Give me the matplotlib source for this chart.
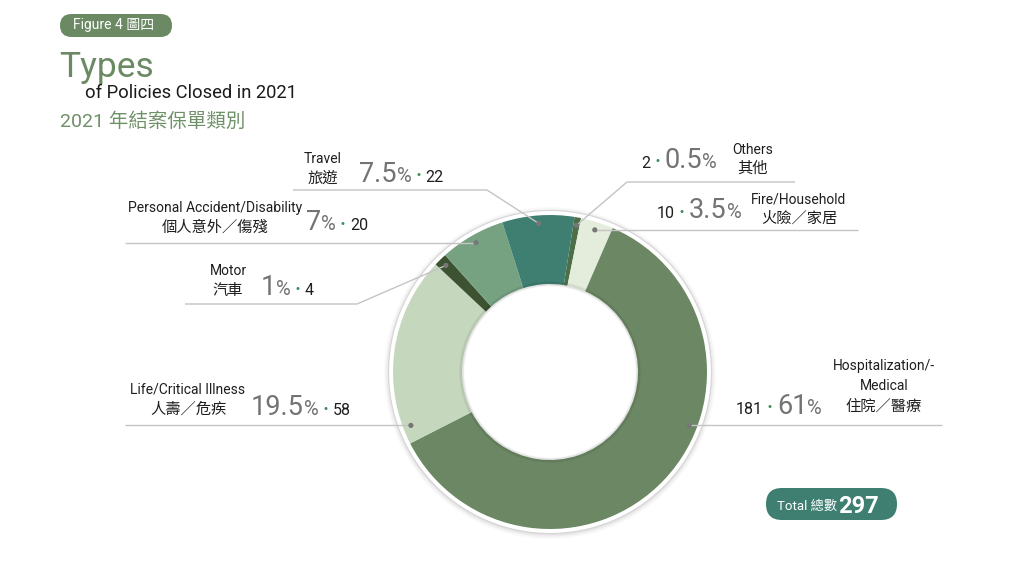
import matplotlib
matplotlib.use('Agg')
import matplotlib.pyplot as plt
from matplotlib.patches import Circle, FancyBboxPatch
import numpy as np

# ---------------- data ----------------
categories_en = ['Others', 'Fire/Household', 'Hospitalization/-\nMedical',
                 'Life/Critical Illness', 'Motor', 'Personal Accident/Disability', 'Travel']
categories_zh = ['其他', '火險／家居', '住院／醫療', '人壽／危疾', '汽車', '個人意外／傷殘', '旅遊']
counts = [2, 10, 181, 58, 4, 20, 22]
percent_labels = ['0.5', '3.5', '61', '19.5', '1', '7', '7.5']
colors = ['#4d6e46', '#e4eddb', '#6b8763', '#c5d8be', '#3d5230', '#76a282', '#3e7f72']
total_count = 297

# ---------------- layout ----------------
plt.rcParams['font.family'] = ['Roboto', 'Noto Sans CJK TC', 'DejaVu Sans']
W, H = 1024, 580
fig = plt.figure(figsize=(W / 100, H / 100), dpi=100)
ax = fig.add_axes([0, 0, 1, 1])


def Y(y):
    return H - y


cx, cy = 550, Y(372)
R_out, R_in = 157, 88
R_dot = 149

# soft shadow + white rim
for i, a in enumerate([0.02, 0.025, 0.03, 0.04]):
    ax.add_patch(Circle((cx, cy - 1), 166 - i * 1.3, fc='black', ec='none', alpha=a, zorder=1))
ax.add_patch(Circle((cx, cy), 161.5, fc='white', ec='#d6d6d6', lw=0.8, zorder=2))

wedges, _ = ax.pie(counts, colors=colors, startangle=81, counterclock=False,
                   radius=R_out, center=(cx, cy),
                   wedgeprops=dict(width=R_out - R_in, edgecolor='none', linewidth=0))
for w in wedges:
    w.set_zorder(3)

# inner hole shadow
ax.add_patch(Circle((cx, cy), R_in + 0.5, fc='none', ec='black', alpha=0.07, lw=3, zorder=4))
ax.add_patch(Circle((cx, cy), R_in - 1, fc='none', ec='black', alpha=0.04, lw=2, zorder=4))

ax.set_xlim(0, W)
ax.set_ylim(0, H)
ax.set_aspect('equal')
ax.axis('off')

# dot angle overrides (clockwise from top, degrees) for slices whose dot sits off-centre
dot_override = {2: 111, 3: 249}
dots = []
for i, w in enumerate(wedges):
    if i in dot_override:
        phi = np.deg2rad(90 - dot_override[i])
    else:
        phi = np.deg2rad((w.theta1 + w.theta2) / 2)
    dots.append((cx + R_dot * np.cos(phi), cy + R_dot * np.sin(phi)))

line_col = '#c4c4c4'
# leader line bends/ends (image coords) per slice
leader = {
    0: [(627, 182), (795, 182)],
    1: [(858, None)],
    2: [(942, None)],
    3: [(125, None)],
    4: [(357, 304), (185, 304)],
    5: [(125, None)],
    6: [(487, 190), (293, 190)],
}
for i, (dx, dy) in enumerate(dots):
    xs, ys = [dx], [dy]
    for (px, py) in leader[i]:
        xs.append(px)
        ys.append(dy if py is None else Y(py))
    ax.plot(xs, ys, color=line_col, lw=1.0, zorder=5, solid_capstyle='butt')
    ax.add_patch(Circle((dx, dy), 2.6, fc='#777777', ec='none', zorder=6))

# ---------------- labels ----------------
name_pos = {
    0: (753, [150, 168]),
    1: (799, [199.5, 218]),
    2: (884, [366, 386, 406]),
    3: (188, [390, 409]),
    4: (228, [271, 291]),
    5: (215, [208, 227]),
    6: (323, [159, 178]),
}
for i in range(len(counts)):
    x0, ys = name_pos[i]
    lines = categories_en[i].split('\n')
    for j, ln in enumerate(lines):
        ax.text(x0, Y(ys[j]), ln, ha='center', va='center', fontsize=10, color='#1e1e1e', zorder=7)
    ax.text(x0, Y(ys[len(lines)]), categories_zh[i], ha='center', va='center',
            fontsize=11, color='#1e1e1e', family=['Noto Sans CJK TC', 'DejaVu Sans'], zorder=7)

fig.canvas.draw()
renderer = fig.canvas.get_renderer()


def text_row(x, y, pieces):
    cur = x
    for s, kw, gap, lift in pieces:
        t = ax.text(cur, Y(y) + lift, s, ha='left', va='baseline', zorder=7, **kw)
        cur += t.get_window_extent(renderer).width + gap


big = dict(fontsize=19.5, color='#737373')
pct = dict(fontsize=14.5, color='#737373')
cnt = dict(fontsize=11.5, color='#1e1e1e')
bul = dict(fontsize=7.5, color='#3c8c5c', family=['DejaVu Sans'])
lift = 3.5

row_pos = {
    0: (641, 167.5, 'count'),
    1: (657, 218.5, 'count'),
    2: (736, 413.5, 'count'),
    3: (251, 415, 'pct'),
    4: (261, 295, 'pct'),
    5: (306, 230.5, 'pct'),
    6: (359, 182, 'pct'),
}
for i in range(len(counts)):
    x0, y0, order = row_pos[i]
    if order == 'count':
        pieces = [(str(counts[i]), cnt, 4, 0), ('•', bul, 4, lift),
                  (percent_labels[i], big, 0, 0), ('%', pct, 0, 0)]
    else:
        pieces = [(percent_labels[i], big, 0, 0), ('%', pct, 4, 0), ('•', bul, 4, lift),
                  (str(counts[i]), cnt, 0, 0)]
    text_row(x0, y0, pieces)

# ---------------- title ----------------
green_title = '#6b8a63'
ax.add_patch(FancyBboxPatch((60, Y(37)), 112, 23, boxstyle='round,pad=0,rounding_size=11.5',
                            fc=green_title, ec='none', zorder=7))
ax.text(114, Y(25.5), 'Figure 4 圖四', ha='center', va='center', fontsize=10, color='white', zorder=8)
ax.text(59, Y(77), 'Types', ha='left', va='baseline', fontsize=25.5, color=green_title, zorder=7)
ax.text(85, Y(97.5), 'of Policies Closed in 2021', ha='left', va='baseline', fontsize=13.2,
        color='#1a1a1a', zorder=7)
ax.text(60, Y(127), '2021 年結案保單類別', ha='left', va='baseline', fontsize=14,
        color='#6f9168', zorder=7)

# ---------------- total pill ----------------
ax.add_patch(FancyBboxPatch((766, Y(520)), 131, 32, boxstyle='round,pad=0,rounding_size=16',
                            fc='#3e7f72', ec='none', zorder=7))
text_row(777, 510, [('Total 總數', dict(fontsize=9.5, color='white'), 4, 0)])
ax.text(838, Y(513), str(total_count), ha='left', va='baseline', fontsize=17, fontweight='bold',
        color='white', zorder=8)

fig.savefig('out.png', dpi=100, facecolor='white')
